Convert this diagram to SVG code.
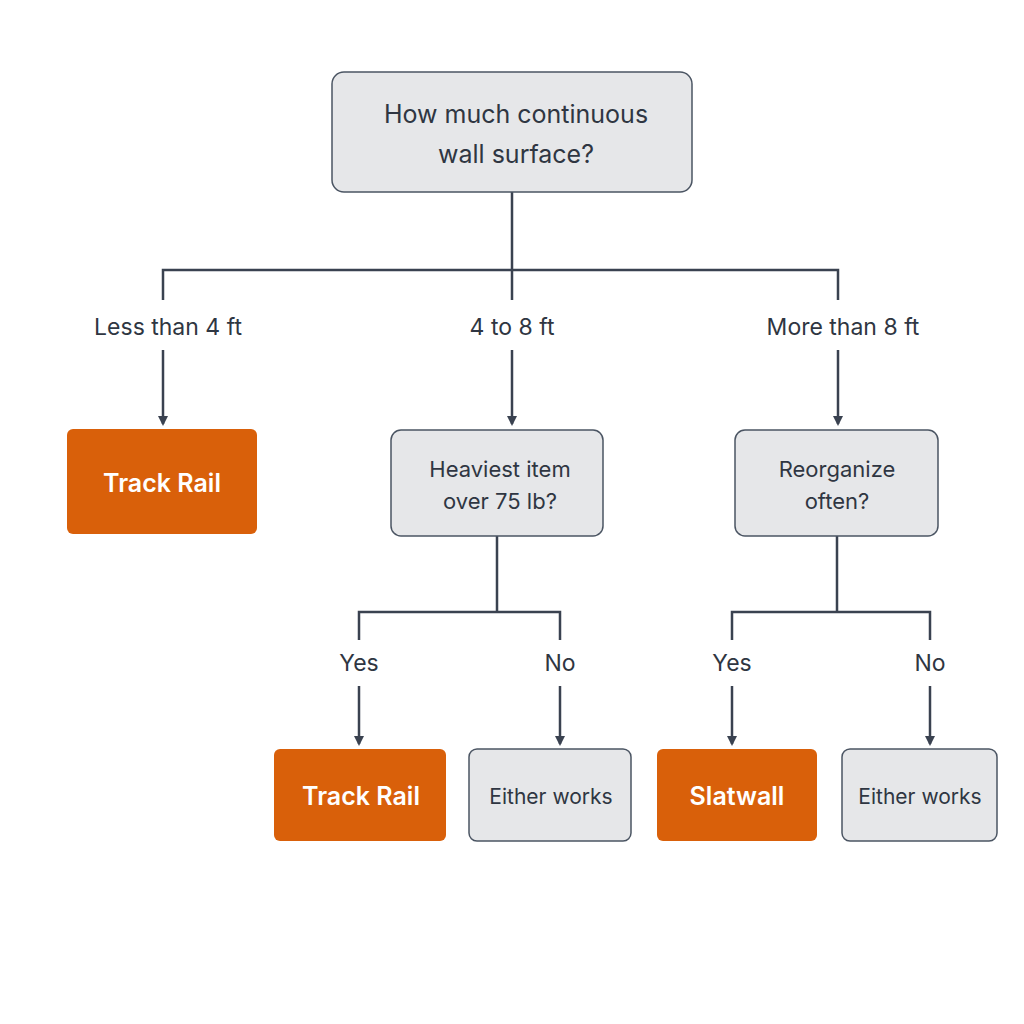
<svg xmlns="http://www.w3.org/2000/svg" width="1024" height="1024" viewBox="0 0 1024 1024">
<defs>
<marker id="ah" markerWidth="10" markerHeight="10" refX="8" refY="5" orient="auto" markerUnits="userSpaceOnUse" viewBox="0 0 10 10"><path d="M0,0 L10,5 L0,10 Z" fill="#3a4250"/></marker>
<style>
.q{fill:#e6e7e9;stroke:#4b5563;stroke-width:1.5}
.o{fill:#d9600a}
.t{font-family:"Inter","Liberation Sans",sans-serif;fill:#2f3642;text-anchor:middle}
.w{font-family:"Inter","Liberation Sans",sans-serif;fill:#ffffff;text-anchor:middle;font-weight:600;font-size:25px}
.c{fill:none;stroke:#3a4250;stroke-width:2.5}
</style>
</defs>
<rect width="1024" height="1024" fill="#ffffff"/>
<g id="connectors">
<path class="c" d="M512,192 V300 M163,300 V270 H838 V300"/>
<path class="c" d="M163,350 V424" marker-end="url(#ah)"/>
<path class="c" d="M512,350 V424" marker-end="url(#ah)"/>
<path class="c" d="M838,350 V424" marker-end="url(#ah)"/>
<path class="c" d="M497,536 V612 M359,640 V612 H560 V640"/>
<path class="c" d="M837,536 V612 M732,640 V612 H930 V640"/>
<path class="c" d="M359,686 V744" marker-end="url(#ah)"/>
<path class="c" d="M560,686 V744" marker-end="url(#ah)"/>
<path class="c" d="M732,686 V744" marker-end="url(#ah)"/>
<path class="c" d="M930,686 V744" marker-end="url(#ah)"/>
<g class="t" font-size="23">
<text x="168" y="335">Less than 4 ft</text>
<text x="512" y="335">4 to 8 ft</text>
<text x="843" y="335">More than 8 ft</text>
<text x="359" y="671">Yes</text>
<text x="560" y="671">No</text>
<text x="732" y="671">Yes</text>
<text x="930" y="671">No</text>
</g>
</g>
<g id="root"><rect class="q" x="332" y="72" width="360" height="120" rx="12"/>
<text class="t" font-size="25" x="516" y="123">How much continuous</text>
<text class="t" font-size="25" x="516" y="163">wall surface?</text></g>
<g id="track1"><rect class="o" x="67" y="429" width="190" height="105" rx="6"/><text class="w" x="162" y="492">Track Rail</text></g>
<g id="heavy"><rect class="q" x="391" y="430" width="212" height="106" rx="10"/>
<text class="t" font-size="22" x="500" y="477">Heaviest item</text><text class="t" font-size="22" x="500" y="509">over 75 lb?</text></g>
<g id="reorg"><rect class="q" x="735" y="430" width="203" height="106" rx="10"/>
<text class="t" font-size="22" x="837" y="477">Reorganize</text><text class="t" font-size="22" x="837" y="509">often?</text></g>
<g id="track2"><rect class="o" x="274" y="749" width="172" height="92" rx="6"/><text class="w" x="361" y="805">Track Rail</text></g>
<g id="either1"><rect class="q" x="469" y="749" width="162" height="92" rx="8"/><text class="t" font-size="21" x="551" y="804">Either works</text></g>
<g id="slatwall"><rect class="o" x="657" y="749" width="160" height="92" rx="6"/><text class="w" x="737" y="805">Slatwall</text></g>
<g id="either2"><rect class="q" x="842" y="749" width="155" height="92" rx="8"/><text class="t" font-size="21" x="920" y="804">Either works</text></g>
</svg>
